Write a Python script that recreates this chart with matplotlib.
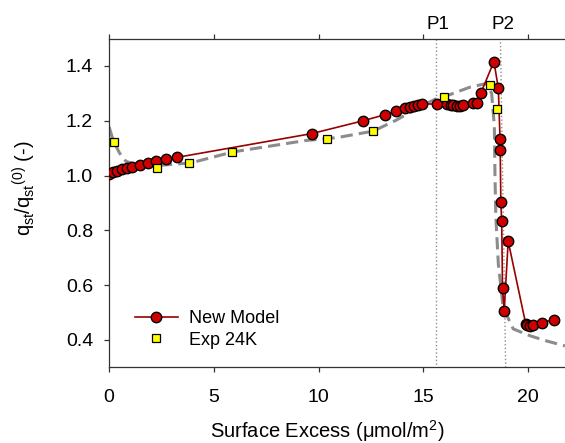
import matplotlib
matplotlib.use("Agg")
import matplotlib.pyplot as plt

plt.rcParams['font.family'] = ['Liberation Sans', 'DejaVu Sans']
plt.rcParams['mathtext.fontset'] = 'custom'
plt.rcParams['mathtext.rm'] = 'Liberation Sans'
plt.rcParams['mathtext.it'] = 'Liberation Sans:italic'
plt.rcParams['mathtext.default'] = 'regular'

# New Model
model_x = [0.0, 0.21, 0.40, 0.60, 0.84, 1.11, 1.48, 1.84, 2.24, 2.72, 3.23,
           9.67, 12.13, 13.16, 13.69, 14.11, 14.35, 14.54, 14.75, 14.94,
           15.66, 16.1, 16.3, 16.42, 16.6, 16.74, 16.9, 17.37, 17.56, 17.74,
           18.36, 18.57, 18.65, 18.66, 18.69, 18.73, 18.77, 18.85, 19.04,
           19.88, 19.96, 20.08, 20.24, 20.66, 21.22]
model_y = [1.005, 1.012, 1.017, 1.022, 1.027, 1.032, 1.038, 1.046, 1.053, 1.059, 1.066,
           1.153, 1.200, 1.222, 1.235, 1.245, 1.250, 1.253, 1.257, 1.261,
           1.261, 1.262, 1.258, 1.256, 1.254, 1.254, 1.257, 1.265, 1.263, 1.302,
           1.416, 1.318, 1.135, 1.092, 0.903, 0.833, 0.588, 0.506, 0.760,
           0.457, 0.455, 0.452, 0.455, 0.463, 0.474]

# Exp 24K
exp_x = [0.24, 2.30, 3.81, 5.87, 10.38, 12.57, 15.97, 18.17, 18.49]
exp_y = [1.123, 1.029, 1.046, 1.086, 1.133, 1.162, 1.288, 1.330, 1.241]

# Dashed reference curve
curve_x = [0.0, 0.15, 0.3, 0.5, 0.8, 1.2, 2.4, 3.9, 5.9, 9.4, 10.5, 11.0, 12.6,
           13.7, 14.8, 15.6, 16.0, 17.2, 18.0, 18.25, 18.38, 18.41, 18.45, 18.57,
           18.8, 19.28, 20.08, 20.87, 21.75]
curve_y = [1.178, 1.14, 1.112, 1.082, 1.052, 1.042, 1.037, 1.046, 1.086, 1.128, 1.135,
           1.140, 1.162, 1.202, 1.25, 1.28, 1.288, 1.322, 1.336, 1.30, 1.18, 1.0,
           0.85, 0.677, 0.518, 0.44, 0.415, 0.396, 0.378]

# Marker lines
p_labels = ['P1', 'P2']
p_top_x = [15.58, 18.67]
p_bot_x = [15.58, 18.92]

fig = plt.figure(figsize=(5.65, 4.43), dpi=100)
ax = fig.add_axes([0.193, 0.171, 0.807, 0.742])

for tx, bx in zip(p_top_x, p_bot_x):
    ax.plot([tx, bx], [1.5, 0.3], linestyle=':', color='#a08888', lw=1.0, zorder=1)

ax.plot(curve_x, curve_y, linestyle=(0, (4, 2)), color='#8c8c8c', lw=2.2, zorder=2)
ax.plot(model_x, model_y, '-o', color='#990000', lw=1.2, markersize=7.5,
        markerfacecolor='#d00000', markeredgecolor='black', markeredgewidth=1.0,
        label='New Model', zorder=3)
ax.plot(exp_x, exp_y, 's', markersize=6, markerfacecolor='#ffff00',
        markeredgecolor='black', markeredgewidth=0.9, label='Exp 24K', zorder=4)

ax.set_xlim(0, 21.75)
ax.set_ylim(0.3, 1.5)
ax.set_xticks([0, 5, 10, 15, 20])
ax.set_yticks([0.4, 0.6, 0.8, 1.0, 1.2, 1.4])
ax.set_yticklabels(['0.4', '0.6', '0.8', '1.0', '1.2', '1.4'])

ax.spines['right'].set_visible(False)
for s in ['left', 'bottom', 'top']:
    ax.spines[s].set_linewidth(0.9)
    ax.spines[s].set_color('#333333')
ax.tick_params(axis='both', direction='out', length=3.5, width=0.9, labelsize=14,
               pad=8, colors='#333333', labelcolor='black')
ax.tick_params(axis='x', top=True, labeltop=False, pad=12)

for lab, tx in zip(p_labels, p_top_x):
    ax.text(tx + 0.1, 1.55, lab, ha='center', va='center', fontsize=13.5)

ax.set_xlabel(r'Surface Excess ($\mu$mol/m$^2$)', fontsize=14.5)
ax.xaxis.set_label_coords((326.7 - 109) / 456.0, -0.155)
ax.set_ylabel(r'q$_{\rm st}$/q$_{\rm st}{}^{(0)}$ (-)', fontsize=14.5)
ax.yaxis.set_label_coords(-0.156, 0.546)

leg = ax.legend(loc='lower left', bbox_to_anchor=(0.04, 0.035), frameon=False,
                fontsize=13, handlelength=2.4, handletextpad=0.6, labelspacing=0.25,
                borderaxespad=0)

fig.savefig('out.png', dpi=100)
